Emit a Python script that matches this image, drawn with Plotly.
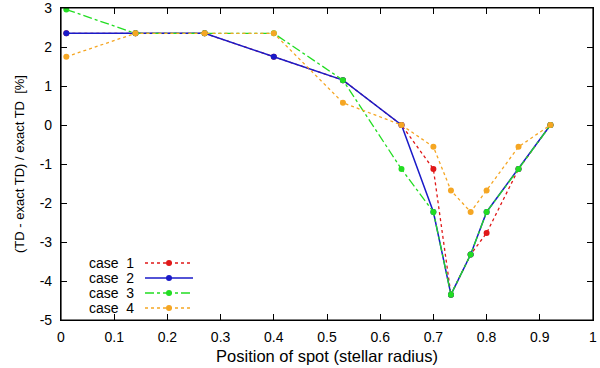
import plotly.graph_objects as go

x = [0.01, 0.14, 0.27, 0.40, 0.53, 0.64, 0.70, 0.733, 0.77, 0.80, 0.86, 0.92]
case1 = [2.35, 2.35, 2.35, 1.75, 1.15, 0.0, -1.13, -4.35, -3.32, -2.77, -1.13, 0.0]
case2 = [2.35, 2.35, 2.35, 1.75, 1.15, 0.0, -2.23, -4.35, -3.32, -2.23, -1.13, 0.0]
case3 = [2.96, 2.35, 2.35, 2.35, 1.15, -1.13, -2.23, -4.35, -3.32, -2.23, -1.13, 0.0]
case4 = [1.75, 2.35, 2.35, 2.35, 0.57, 0.0, -0.56, -1.68, -2.23, -1.68, -0.56, 0.0]

names = ["case  1", "case  2", "case  3", "case  4"]
colors = ["#e01818", "#1a1ac8", "#22dd22", "#f5a623"]
dashes = ["dot", "solid", "dashdot", "dot"]
series = [case1, case2, case3, case4]

xticks = [0, 0.1, 0.2, 0.3, 0.4, 0.5, 0.6, 0.7, 0.8, 0.9, 1]
yticks = [-5, -4, -3, -2, -1, 0, 1, 2, 3]

FONT = "Liberation Sans"
fig = go.Figure()
for nm, c, d, y in zip(names, colors, dashes, series):
    fig.add_trace(go.Scatter(x=x, y=y, name=nm, mode="lines+markers",
                             line=dict(color=c, dash=d, width=1.5 if d == "solid" else 1.3),
                             marker=dict(color=c, size=6), showlegend=False))

# custom gnuplot-style legend (text left, sample right)
W, H = 600, 368
ml, mr, mt, mb = 61, 7, 8, 48
pw, ph = W - ml - mr, H - mt - mb
def px(v):
    return (v - ml) / pw
def py(v):
    return 1 - (v - mt) / ph
rows = [263, 278, 293, 308]
for nm, c, d, r in zip(names, colors, dashes, rows):
    fig.add_annotation(x=px(136), y=py(r), xref="paper", yref="paper", text=nm,
                       showarrow=False, xanchor="right", yanchor="middle",
                       font=dict(family=FONT, size=14, color="black"))
    fig.add_shape(type="line", xref="paper", yref="paper", x0=px(145), x1=px(193),
                  y0=py(r), y1=py(r), line=dict(color=c, dash=d, width=1.5 if d == "solid" else 1.3))
    fig.add_shape(type="circle", xref="paper", yref="paper", x0=px(166), x1=px(172),
                  y0=py(r - 3), y1=py(r + 3), fillcolor=c, line=dict(color=c, width=0))

# plot frame
fig.add_shape(type="rect", xref="paper", yref="paper", x0=0, x1=1, y0=0, y1=1,
              line=dict(color="black", width=1.2), layer="above")

axis_common = dict(showline=True, linecolor="black", linewidth=1.2, mirror="ticks",
                   ticks="inside", ticklen=6, tickcolor="black", showgrid=False,
                   zeroline=False, automargin=False, ticklabeloverflow="allow",
                   tickfont=dict(family=FONT, size=14, color="black"))
fig.update_xaxes(range=[0, 1], tickvals=xticks, ticktext=[str(t) for t in xticks],
                 ticklabelstandoff=4,
                 title=dict(text="Position of spot (stellar radius)", font=dict(family=FONT, size=16.5, color="black"), standoff=6),
                 **axis_common)
fig.update_yaxes(range=[-5, 3], tickvals=yticks, ticktext=[str(t) for t in yticks],
                 ticklabelstandoff=5,
                 title=dict(text="(TD - exact TD) / exact TD  [%]", font=dict(family=FONT, size=13, color="black"), standoff=12),
                 **axis_common)
fig.update_layout(width=W, height=H, margin=dict(l=ml, r=mr, t=mt, b=mb),
                  plot_bgcolor="white", paper_bgcolor="white")
fig.write_html("out.html", config={"displayModeBar": False},
               post_script="document.body.style.margin='0';document.body.style.overflow='hidden';")
